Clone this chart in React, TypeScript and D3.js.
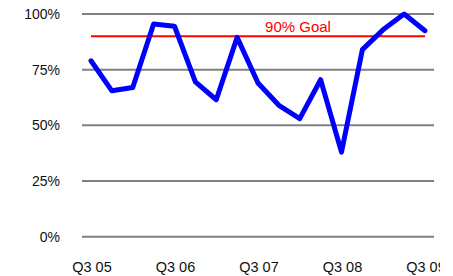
import React from 'react'
import * as d3 from 'd3'

const quarters = [
  'Q3 05', 'Q4 05', 'Q1 06', 'Q2 06', 'Q3 06', 'Q4 06', 'Q1 07', 'Q2 07',
  'Q3 07', 'Q4 07', 'Q1 08', 'Q2 08', 'Q3 08', 'Q4 08', 'Q1 09', 'Q2 09', 'Q3 09',
]
const scores = [79, 65.5, 67, 95.5, 94.5, 69.5, 61.5, 89.5, 69, 59, 53, 70.5, 38, 84, 93, 100, 92.5]
const xTickLabels = ['Q3 05', 'Q3 06', 'Q3 07', 'Q3 08', 'Q3 09']
const yTicks = [0, 25, 50, 75, 100]
const goal = 90
const goalLabel = '90% Goal'

function App() {
  const width = 453
  const height = 276

  const xScale = d3.scalePoint<string>().domain(quarters).range([91, 425])
  const yScale = d3.scaleLinear().domain([0, 100]).range([236.7, 14])

  const line = d3.line<number>()
    .x((d, i) => xScale(quarters[i]) as number)
    .y((d) => yScale(d))

  const font = 'Arial, "Liberation Sans", sans-serif'

  return (
    <svg width={width} height={height} style={{ position: 'absolute', left: 0, top: 0, background: '#fff' }}>
      <defs>
        <clipPath id="labelClip">
          <rect x={0} y={0} width={440} height={height} />
        </clipPath>
      </defs>
      {yTicks.map((t) => (
        <g key={t}>
          <line x1={82} x2={434} y1={yScale(t)} y2={yScale(t)} stroke="#808080" strokeWidth={2} />
          <text x={60} y={yScale(t)} dy="0.35em" textAnchor="end" fontFamily={font} fontSize={14} fill="#111">
            {t}%
          </text>
        </g>
      ))}
      <g clipPath="url(#labelClip)">
        {xTickLabels.map((l) => (
          <text key={l} x={(xScale(l) as number) + 1} y={272} textAnchor="middle" fontFamily={font} fontSize={14.5} fill="#111">
            {l}
          </text>
        ))}
      </g>
      <line
        x1={xScale(quarters[0])}
        x2={xScale(quarters[quarters.length - 1])}
        y1={yScale(goal)}
        y2={yScale(goal)}
        stroke="#ff0000"
        strokeWidth={2}
      />
      <text x={298} y={32} textAnchor="middle" fontFamily={font} fontSize={15} fill="#ff0000">
        {goalLabel}
      </text>
      <path d={line(scores) || ''} fill="none" stroke="#0000ff" strokeWidth={5} strokeLinejoin="round" strokeLinecap="round" />
    </svg>
  )
}

export default App
